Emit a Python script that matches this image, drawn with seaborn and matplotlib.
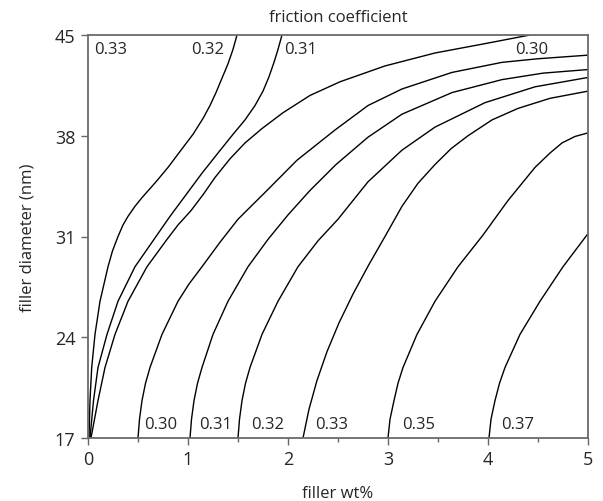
import pandas as pd
import matplotlib
matplotlib.use('Agg')
import matplotlib.pyplot as plt
import seaborn as sns
from matplotlib.ticker import MultipleLocator

# contour lines: filler wt% (x) vs filler diameter nm (y)
# three lines coming out of the origin
c1_wt = [0.01, 0.02, 0.037, 0.07, 0.12, 0.20, 0.245, 0.30, 0.35, 0.40, 0.47, 0.54, 0.68, 0.80, 0.93, 1.05, 1.15, 1.22, 1.28, 1.34, 1.40, 1.45, 1.49]
c1_dia = [17.0, 19.6, 21.9, 24.2, 26.5, 28.9, 30.0, 31.0, 31.8, 32.4, 33.1, 33.7, 34.8, 35.8, 37.0, 38.1, 39.2, 40.1, 41.0, 42.0, 43.0, 44.0, 45.0]

c2_wt = [0.02, 0.055, 0.10, 0.19, 0.30, 0.47, 0.66, 0.82, 0.98, 1.14, 1.30, 1.45, 1.57, 1.67, 1.75, 1.81, 1.86, 1.90, 1.94]
c2_dia = [17.0, 19.6, 21.9, 24.2, 26.5, 28.9, 30.8, 32.4, 33.9, 35.4, 36.8, 38.1, 39.1, 40.1, 41.1, 42.1, 43.1, 44.0, 45.0]

c3_wt = [0.03, 0.10, 0.17, 0.27, 0.40, 0.59, 0.79, 0.90, 1.03, 1.15, 1.27, 1.42, 1.57, 1.74, 1.95, 2.22, 2.52, 2.97, 3.47, 3.97, 4.42]
c3_dia = [17.0, 19.6, 21.9, 24.2, 26.5, 28.9, 30.8, 31.8, 32.8, 33.9, 35.1, 36.4, 37.5, 38.5, 39.6, 40.8, 41.75, 42.85, 43.75, 44.4, 45.0]

# lines starting on the bottom axis
c4_wt = [0.50, 0.515, 0.54, 0.575, 0.62, 0.74, 0.90, 1.01, 1.14, 1.32, 1.50, 1.79, 2.09, 2.47, 2.80, 3.14, 3.64, 4.14, 4.50, 5.0]
c4_dia = [17.0, 18.3, 19.6, 20.8, 21.9, 24.2, 26.5, 27.7, 28.9, 30.6, 32.2, 34.2, 36.3, 38.4, 40.1, 41.25, 42.4, 43.1, 43.35, 43.6]

c5_wt = [1.02, 1.035, 1.06, 1.095, 1.14, 1.25, 1.40, 1.60, 1.80, 2.00, 2.22, 2.48, 2.80, 3.14, 3.64, 4.14, 4.55, 5.0]
c5_dia = [17.0, 18.3, 19.6, 20.8, 21.9, 24.2, 26.5, 28.9, 30.8, 32.5, 34.2, 36.0, 37.9, 39.5, 41.0, 41.9, 42.35, 42.6]

c6_wt = [1.50, 1.515, 1.54, 1.575, 1.62, 1.74, 1.90, 2.10, 2.30, 2.50, 2.80, 3.14, 3.47, 3.97, 4.47, 5.0]
c6_dia = [17.0, 18.3, 19.6, 20.8, 21.9, 24.2, 26.5, 28.9, 30.7, 32.2, 34.8, 37.0, 38.6, 40.3, 41.4, 42.05]

c7_wt = [2.15, 2.21, 2.29, 2.39, 2.51, 2.65, 2.805, 2.97, 3.14, 3.30, 3.47, 3.63, 3.80, 4.04, 4.30, 4.62, 5.0]
c7_dia = [17.0, 19.0, 21.0, 23.0, 25.0, 27.0, 29.0, 31.0, 33.1, 34.7, 36.0, 37.1, 38.0, 39.1, 39.9, 40.6, 41.1]

c8_wt = [3.00, 3.02, 3.06, 3.10, 3.15, 3.29, 3.47, 3.70, 3.95, 4.20, 4.47, 4.62, 4.74, 4.87, 5.0]
c8_dia = [17.0, 18.3, 19.6, 20.8, 21.9, 24.2, 26.5, 28.9, 31.1, 33.5, 35.8, 36.8, 37.5, 37.95, 38.2]

c9_wt = [4.01, 4.03, 4.07, 4.115, 4.17, 4.32, 4.52, 4.75, 5.0]
c9_dia = [17.0, 18.3, 19.6, 20.8, 21.9, 24.2, 26.5, 28.9, 31.2]

top_labels = ['0.33', '0.32', '0.31', '0.30']
bottom_labels = ['0.30', '0.31', '0.32', '0.33', '0.35', '0.37']
x_ticks = [0, 1, 2, 3, 4, 5]
y_ticks = [17, 24, 31, 38, 45]

lines = [(c1_wt, c1_dia), (c2_wt, c2_dia), (c3_wt, c3_dia), (c4_wt, c4_dia), (c5_wt, c5_dia),
         (c6_wt, c6_dia), (c7_wt, c7_dia), (c8_wt, c8_dia), (c9_wt, c9_dia)]
frames = []
for i, (wt, dia) in enumerate(lines):
    frames.append(pd.DataFrame({'wt': wt, 'dia': dia, 'line': i}))
df = pd.concat(frames, ignore_index=True)

sns.set_style('ticks')
plt.rcParams['font.family'] = ['Open Sans', 'DejaVu Sans']

fig = plt.figure(figsize=(6.03, 5.02), dpi=100)
ax = fig.add_axes([88 / 603, 63 / 502, 500 / 603, 403 / 502])

sns.lineplot(data=df, x='wt', y='dia', units='line', estimator=None, sort=False,
             color='black', linewidth=1.0, ax=ax, legend=False)
for ln in ax.lines:
    ln.set_solid_joinstyle('round')

ax.set_xlim(0, 5)
ax.set_ylim(17, 45)
ax.set_xticks(x_ticks)
ax.set_yticks(y_ticks)
ax.xaxis.set_minor_locator(MultipleLocator(0.5))
ax.tick_params(axis='both', which='major', direction='out', length=5, width=1,
               color='#666666', labelsize=13, pad=4)
ax.tick_params(axis='x', which='minor', direction='out', length=3, width=1, color='#666666')
for s in ax.spines.values():
    s.set_color('#6a6a6a')
    s.set_linewidth(1.3)

# contour value labels
for txt, x in zip(top_labels, [0.06, 1.03, 1.96, 4.27]):
    ax.text(x, 44.05, txt, fontsize=12, va='center', ha='left')
for txt, x in zip(bottom_labels, [0.56, 1.11, 1.63, 2.27, 3.14, 4.13]):
    ax.text(x, 17.95, txt, fontsize=12, va='center', ha='left')

ax.set_title('friction coefficient', fontsize=12, pad=10)
ax.set_xlabel('filler wt%', fontsize=12, labelpad=12)
ax.set_ylabel('filler diameter (nm)', fontsize=12, labelpad=14)

fig.savefig('out.png', dpi=100)
